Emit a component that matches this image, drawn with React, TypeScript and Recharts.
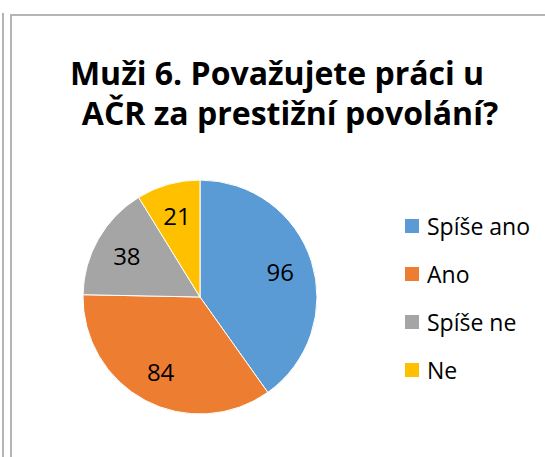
import React from 'react';
import { PieChart, Pie, Cell } from 'recharts';

// Survey answers (men, question 6)
const categories = ['Spíše ano', 'Ano', 'Spíše ne', 'Ne'];
const counts = [96, 84, 38, 21];
const colors = ['#5B9BD5', '#ED7D31', '#A5A5A5', '#FFC000'];
const titleLines = ['Muži 6. Považujete práci u', 'AČR za prestižní povolání?'];

const data = categories.map((name, i) => ({ name, value: counts[i] }));

const FONT = "'Open Sans', 'Noto Sans', sans-serif";
const RADIAN = Math.PI / 180;

const renderLabel = (props: any) => {
  const { cx, cy, midAngle, outerRadius, value } = props;
  const r = outerRadius * 0.72;
  const x = cx + r * Math.cos(-midAngle * RADIAN);
  const y = cy + r * Math.sin(-midAngle * RADIAN);
  return (
    <text x={x} y={y} fill="#000" textAnchor="middle" dominantBaseline="central" fontSize={24} fontFamily={FONT}>
      {value}
    </text>
  );
};

export default function App() {
  return (
    <div style={{ position: 'absolute', left: 0, top: 0, width: 545, height: 457, overflow: 'hidden', background: '#fff' }}>
      {/* frame lines */}
      <div style={{ position: 'absolute', left: 2, top: 13, width: 2, height: 444, background: '#b4b4b4' }} />
      <div style={{ position: 'absolute', left: 10, top: 14, width: 560, height: 460, border: '2px solid #b4b4b4', boxSizing: 'border-box' }} />

      <div style={{ position: 'absolute', left: 0, top: 0 }}>
        <PieChart width={545} height={457} margin={{ top: 0, right: 0, bottom: 0, left: 0 }}>
          <text x={277} y={85} textAnchor="middle" fontSize={32} fontWeight="bold" fontFamily={FONT} fill="#000">
            {titleLines[0]}
          </text>
          <text x={290} y={125} textAnchor="middle" fontSize={32} fontWeight="bold" fontFamily={FONT} fill="#000">
            {titleLines[1]}
          </text>
          <Pie
            data={data}
            dataKey="value"
            nameKey="name"
            cx={200}
            cy={297}
            outerRadius={117}
            startAngle={90}
            endAngle={-270}
            stroke="#fff"
            strokeWidth={1}
            label={renderLabel}
            labelLine={false}
            isAnimationActive={false}
          >
            {data.map((entry, index) => (
              <Cell key={`cell-${index}`} fill={colors[index % colors.length]} />
            ))}
          </Pie>
          {/* legend */}
          {categories.map((name, i) => (
            <g key={name}>
              <rect x={405} y={219 + i * 48} width={14} height={14} fill={colors[i]} />
              <text x={427} y={226 + i * 48} dominantBaseline="central" fontSize={23} fontFamily={FONT} fill="#000">
                {name}
              </text>
            </g>
          ))}
        </PieChart>
      </div>
    </div>
  );
}
